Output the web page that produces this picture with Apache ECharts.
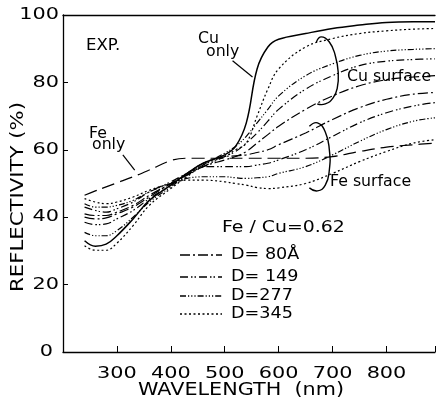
<!DOCTYPE html>
<html><head><meta charset="utf-8">
<script src="https://cdn.jsdelivr.net/npm/echarts@6/dist/echarts.min.js"></script>
<style>html,body{margin:0;padding:0;background:#fff}#c{width:436px;height:401px}</style>
</head><body><div id="c"></div>
<script>
// Wavelength grid (nm)
const wavelength = [240,260,280,300,330,360,400,430,460,500,520,540,560,580,600,650,700,750,800,850,890];
// Reflectivity (%)
const cuOnly   = [33,31.4,32,34.5,39.5,45,49.5,53,56,58.5,61,68,84,90.5,92.8,94.5,96,97,97.8,98,98];
const feOnly   = [46.5,47.8,49,50.2,52,54,56.8,57.5,57.5,57.5,57.5,57.5,57.5,57.5,57.5,57.5,58,59.5,60.8,61.5,62];
const cuD80    = [40,39.5,39.8,41,43,46,50,52.5,55,57,58,59.5,62,64.5,67,72,76,79,80.8,81.6,82];
const cuD149   = [38.5,37.8,38,39.5,42,45.5,49.5,52.5,55,58,59.5,62,65,68.5,72,78,82,85,86.3,86.8,87];
const cuD277   = [35.5,34.5,34.5,36,40,44.5,49,52.5,55.5,59,61,64,68,72,76,82,85.5,88,89.3,89.8,90];
const cuD345   = [31.5,30.2,30.2,32.3,37.5,43.5,48.5,52,55.5,58,60,62,70,78,84,90.5,93,94.5,95.3,95.8,96];
const feD80    = [41,40.5,40.5,41.5,43.5,46.5,50,53,56,58,58.2,58.5,59.2,60,61.5,65,69,72.5,75,76.5,77];
const feD149   = [43,42,41.5,42.5,44.5,47.5,50.5,53,55,55,55,55,55.5,56,57,60,64,68,71,73,74];
const feD277   = [44,43,43,43.5,45,47.5,50,51.5,52,52,51.7,51.5,51.7,52,53,55,58.5,62.5,66,68.5,69.5];
const feD345   = [45.5,44.5,44,44.5,46,48,50,51,51,50.5,50,49.5,48.8,48.5,48.7,50,53,56.5,59.5,62,63];
const xTicks = [300,400,500,600,700,800];
const yTicks = [0,20,40,60,80,100];
const legendNames = ['D= 80Å','D= 149','D=277','D=345'];
// annotation paths in data coordinates
const cuBracket = [[670,92],[679,93.5],[694,92],[705,88],[710.5,83],[708.7,78.3],[701,75.4],[686.5,73.6],[671.7,73.6]];
const feBracket = [[657,67],[672,68],[686.5,65.3],[694,60],[694,54],[686.5,49.5],[672,47.8],[657,48.7]];
const cuLeader = [[514.5,86.4],[551.5,81.6]];
const feLeader = [[311,58.5],[333,54]];

const pair = ys => wavelength.map((x,i)=>[x,ys[i]]);
const FONT = 'DejaVu Sans';
const dash = {
  'D= 80Å':[10,3,2,3],
  'D= 149':[8,3,1.5,2,1.5,3],
  'D=277':[6,2,1.2,2,1.2,2,1.2,2],
  'D=345':[2,2.5]
};
function ser(name, ys, type, w){
  return {type:'line', name:name, data:pair(ys), showSymbol:false, symbol:'none', smooth:0.4,
    lineStyle:{color:'#000', width:w||1.2, type:type}, itemStyle:{color:'#000'}, silent:true, z:3};
}
const series = [
  ser('Cu only', cuOnly, 'solid', 1.5),
  ser('Fe only', feOnly, [13,6], 1.2),
  ser(legendNames[0], cuD80, dash[legendNames[0]]),
  ser(legendNames[1], cuD149, dash[legendNames[1]]),
  ser(legendNames[2], cuD277, dash[legendNames[2]]),
  ser(legendNames[3], cuD345, dash[legendNames[3]]),
  ser(legendNames[0], feD80, dash[legendNames[0]]),
  ser(legendNames[1], feD149, dash[legendNames[1]]),
  ser(legendNames[2], feD277, dash[legendNames[2]]),
  ser(legendNames[3], feD345, dash[legendNames[3]])
];
const chart = echarts.init(document.getElementById('c'), null, {renderer:'canvas'});
const txt = {fill:'#000', fontFamily:FONT, fontSize:15};
chart.setOption({
  animation:false,
  backgroundColor:'#fff',
  grid:{left:63, right:1, top:15, bottom:49},
  xAxis:[{type:'value', min:200, max:890, interval:100,
    axisLine:{lineStyle:{color:'#000', width:1.3}}, axisTick:{inside:true, length:6, lineStyle:{color:'#000'}},
    splitLine:{show:false}, axisLabel:{show:false}},
    {type:'value', position:'top', min:200, max:890, axisLine:{show:true, lineStyle:{color:'#000', width:1.3}},
     axisTick:{show:false}, axisLabel:{show:false}, splitLine:{show:false}}],
  yAxis:{type:'value', min:0, max:100, interval:20,
    axisLine:{show:true, lineStyle:{color:'#000', width:1.3}}, axisTick:{show:true, inside:true, length:5, lineStyle:{color:'#000'}},
    splitLine:{show:false}, axisLabel:{show:false}},
  series:series
});
function path(pts){ return pts.map(p=>chart.convertToPixel({xAxisIndex:0,yAxisIndex:0}, p)); }
function stretched(text, x, y, size, sx, align, rot){
  return {type:'text', x:x, y:y, scaleX:sx, rotation:rot||0, silent:true,
    style:Object.assign({}, txt, {text:text, fontSize:size, textAlign:align||'left', textVerticalAlign:'middle'})};
}
const g = [
  {type:'polyline', shape:{points:path(cuBracket), smooth:0.5}, style:{stroke:'#000', lineWidth:1.4, fill:null}, silent:true},
  {type:'polyline', shape:{points:path(feBracket), smooth:0.5}, style:{stroke:'#000', lineWidth:1.4, fill:null}, silent:true},
  {type:'polyline', shape:{points:path(cuLeader)}, style:{stroke:'#000', lineWidth:1.2, fill:null}, silent:true},
  {type:'polyline', shape:{points:path(feLeader)}, style:{stroke:'#000', lineWidth:1.2, fill:null}, silent:true},
  stretched('EXP.', 86, 46, 15, 1.1),
  stretched('Cu', 198, 39, 15, 1.05),
  stretched('only', 206, 52, 15, 1.05),
  stretched('Fe', 89, 134, 15, 1.05),
  stretched('only', 92, 145, 15, 1.05),
  stretched('Cu surface', 347, 77, 15, 1.05),
  stretched('Fe surface', 330, 182, 15, 1.05),
  stretched('Fe / Cu=0.62', 222, 228, 16, 1.18),
  stretched('WAVELENGTH  (nm)', 241, 391, 17, 1.22, 'center'),
  stretched('REFLECTIVITY (%)', 19, 197, 17, 1.25, 'center', Math.PI/2)
];
// tick labels from the axis scale
xTicks.forEach(v=>{ const p = chart.convertToPixel({xAxisIndex:0}, v); g.push(stretched(String(v), p, 374, 16, 1.3, 'center')); });
yTicks.forEach(v=>{ const p = chart.convertToPixel({yAxisIndex:0}, v); g.push(stretched(String(v), v===0?53:59, p, 16, 1.3, 'right')); });
// legend
const legY = [255, 277, 296, 314];
legendNames.forEach((n,i)=>{
  g.push({type:'line', silent:true, shape:{x1:180, y1:legY[i], x2:222, y2:legY[i]}, style:{stroke:'#000', lineWidth:1.3, lineDash:dash[n]}});
  g.push(stretched(n, 231, legY[i], 16, 1.1));
});
chart.setOption({graphic:g});
</script></body></html>
